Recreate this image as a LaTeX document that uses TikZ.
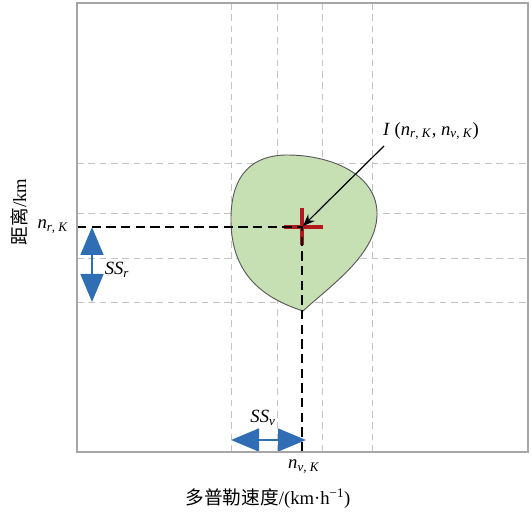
\documentclass[tikz,border=0pt]{standalone}
\usepackage{fontspec}
\setmainfont{Liberation Serif}
\newfontfamily\cjk{Noto Sans CJK SC}
\usetikzlibrary{arrows.meta}
\definecolor{frameGray}{HTML}{A6A6A6}
\definecolor{gridGray}{HTML}{C4C4C4}
\definecolor{blobFill}{HTML}{C6E0B4}
\definecolor{blobEdge}{HTML}{595959}
\definecolor{crossRed}{HTML}{B3191E}
\definecolor{arrowBlue}{HTML}{2F6DB5}
\newcommand{\idx}[1]{\textit{n}\textsubscript{\textit{#1}, \textit{K}}}

\begin{document}
\begin{tikzpicture}[x=0.75pt, y=-0.75pt,
  gridline/.style={gridGray, line width=0.7pt, dash pattern=on 5pt off 3.5pt},
  guide/.style={black, line width=1.3pt, dash pattern=on 7pt off 4pt},
  span/.style={arrowBlue, line width=2pt, {Triangle[length=21pt,width=17pt]}-{Triangle[length=21pt,width=17pt]}},
  lbl/.style={inner sep=1pt, font=\fontsize{14}{16}\selectfont}]
\useasboundingbox (0,0) rectangle (532,516);
% grid
\foreach \x in {231,277,322,372} \draw[gridline] (\x,3) -- (\x,452);
\foreach \y in {163,213,258,302} \draw[gridline] (77,\y) -- (528,\y);
% region
\filldraw[fill=blobFill, draw=blobEdge, line width=0.7pt] (303,311)
  .. controls (270,300) and (232,280) .. (231,222)
  .. controls (230,172) and (255,155) .. (287,155)
  .. controls (332,155) and (378,175) .. (377,215)
  .. controls (376,255) and (330,286) .. (303,311) -- cycle;
\coordinate (c) at (302,227);
\coordinate (nr) at (77,227);
\coordinate (nv) at (302,452);
\coordinate (tail) at (384,146);
\draw[crossRed, line width=3pt] (284,227) -- (323,227) (302,208) -- (302,245);
\draw[guide] (nr) -- (c) -- (nv);
\draw[-{Stealth[length=9pt,width=7pt]}, line width=0.9pt, shorten >=1pt] (tail) -- (c);
% spans
\coordinate (sr1) at (92,227);
\coordinate (sr2) at (92,302);
\coordinate (sv1) at (231,440);
\coordinate (sv2) at (306,440);
\draw[span] (sr1) -- (sr2);
\draw[span] (sv1) -- (sv2);
% frame
\draw[frameGray, line width=1.2pt] (77,3) rectangle (528,452);
% labels
\node[lbl] (lI) at (431,131) {\textit{I} (\idx{r}, \idx{v})};
\node[lbl, anchor=east] (lnr) at (70,227) {\idx{r}};
\node[lbl] (lnv) at (304,467) {\idx{v}};
\node[lbl] (lssr) at (117,270) {\textit{SS}\textsubscript{\textit{r}}};
\node[lbl] (lssv) at (263,418) {\textit{SS}\textsubscript{\textit{v}}};
\node[font=\fontsize{14}{16}\selectfont] (xl) at (268,499) {{\cjk 多普勒速度}/(km·h\textsuperscript{−1})};
\node[rotate=90, font=\fontsize{14}{16}\selectfont] (yl) at (19,212) {{\cjk 距离}/km};
\end{tikzpicture}
\end{document}
